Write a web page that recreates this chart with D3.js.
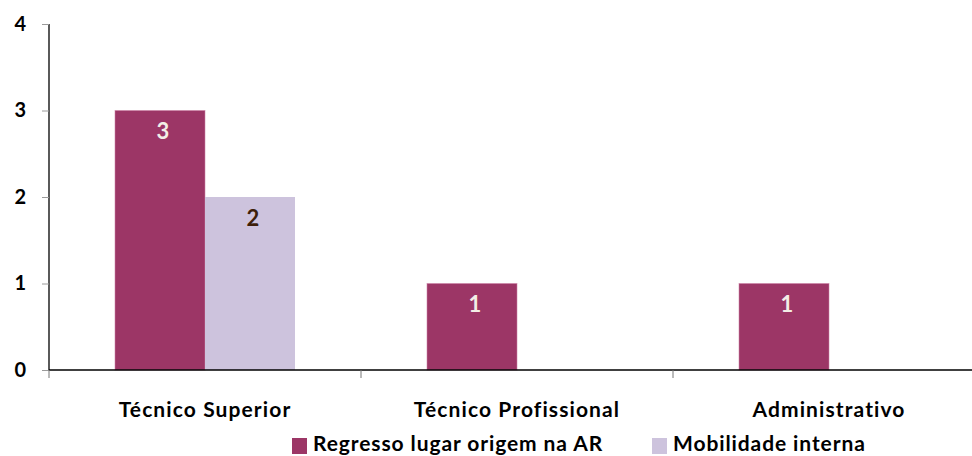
<!DOCTYPE html>
<html>
<head>
<meta charset="utf-8">
<script src="https://cdn.jsdelivr.net/npm/d3@7"></script>
<style>
  html, body { margin: 0; padding: 0; background: #ffffff; }
  svg { display: block; font-family: Lato, "Open Sans", sans-serif; font-weight: 700; }
</style>
</head>
<body>
<svg id="chart" width="972" height="456"></svg>
<script>
// Categories, series and values
const categories = ["Técnico Superior", "Técnico Profissional", "Administrativo"];
const seriesNames = ["Regresso lugar origem na AR", "Mobilidade interna"];
const regressoValues = [3, 1, 1];
const mobilidadeValues = [2, 0, 0];
const yTicks = [0, 1, 2, 3, 4];

const seriesValues = [regressoValues, mobilidadeValues];
const colors = ["#9c3666", "#cdc3dd"];
const labelColors = ["#f3eee6", "#3d1f0a"];

const svg = d3.select("#chart");

const x0 = d3.scaleBand()
  .domain(categories)
  .range([49, 985])
  .paddingInner(0)
  .paddingOuter(0);

const x1 = d3.scaleBand()
  .domain(seriesNames)
  .range([0, x0.bandwidth()])
  .paddingInner(0)
  .paddingOuter(0.7333);

const y = d3.scaleLinear().domain([0, 4]).range([370, 24]);

// Bars
const rows = [];
categories.forEach((c, ci) => {
  seriesNames.forEach((s, si) => {
    rows.push({ cat: c, series: s, si, value: seriesValues[si][ci] });
  });
});

const bars = svg.append("g");
bars.selectAll("rect")
  .data(rows.filter(d => d.value > 0))
  .join("rect")
  .attr("x", d => x0(d.cat) + x1(d.series))
  .attr("y", d => y(d.value))
  .attr("width", x1.bandwidth())
  .attr("height", d => y(0) - y(d.value))
  .attr("fill", d => colors[d.si])
  .attr("stroke", d => d.si === 0 ? "rgba(205,130,165,0.55)" : "none")
  .attr("stroke-width", 1);

// Value labels
svg.append("g").selectAll("text")
  .data(rows.filter(d => d.value > 0))
  .join("text")
  .attr("x", d => x0(d.cat) + x1(d.series) + x1.bandwidth() / 2 + 3)
  .attr("y", d => y(d.value) + 20)
  .attr("text-anchor", "middle")
  .attr("dominant-baseline", "central")
  .attr("font-size", 22)
  .attr("fill", d => labelColors[d.si])
  .text(d => d.value);

// Y axis
const yAxis = svg.append("g").attr("transform", "translate(49,0)")
  .call(d3.axisLeft(y).tickValues(yTicks).tickSize(7).tickPadding(16).tickFormat(d3.format("d")));
yAxis.select(".domain").attr("stroke", "#000").attr("stroke-width", 1.3).attr("d", `M0,${y(4)}V${y(0)}`);
yAxis.selectAll(".tick line").attr("stroke", "#9a9a9a");
yAxis.selectAll(".tick text")
  .attr("font-size", 20).attr("font-weight", 700).attr("fill", "#000")
  .attr("font-family", "Lato, sans-serif");

// X axis with tick marks at category boundaries
const xAxisG = svg.append("g").attr("transform", `translate(0,${y(0)})`);
xAxisG.append("line")
  .attr("x1", 49).attr("x2", 985)
  .attr("stroke", "#000").attr("stroke-width", 1.3);
xAxisG.selectAll("line.sep")
  .data(categories)
  .join("line")
  .attr("class", "sep")
  .attr("x1", d => x0(d)).attr("x2", d => x0(d))
  .attr("y1", 0).attr("y2", 8)
  .attr("stroke", "#777");

// Category labels
svg.append("g").selectAll("text")
  .data(categories)
  .join("text")
  .attr("x", d => x0(d) + x0.bandwidth() / 2)
  .attr("y", 417)
  .attr("text-anchor", "middle")
  .attr("font-size", 21)
  .attr("letter-spacing", 1.1)
  .attr("fill", "#000")
  .text(d => d);

// Legend
const legendX = [292, 652];
const legend = svg.append("g");
seriesNames.forEach((s, i) => {
  legend.append("rect")
    .attr("x", legendX[i]).attr("y", 438)
    .attr("width", 15).attr("height", 16)
    .attr("fill", colors[i]);
  legend.append("text")
    .attr("x", legendX[i] + 21).attr("y", 451)
    .attr("font-size", 21)
    .attr("letter-spacing", 0.9)
    .attr("fill", "#000")
    .text(s);
});
</script>
</body>
</html>
